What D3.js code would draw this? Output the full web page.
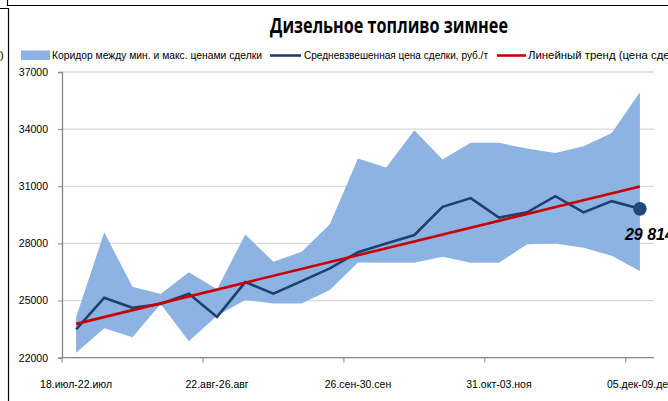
<!DOCTYPE html>
<html>
<head>
<meta charset="utf-8">
<script src="https://cdn.jsdelivr.net/npm/d3@7"></script>
<style>
  body { margin: 0; background: #fff; }
  svg { display: block; font-family: "Liberation Sans", Arial, sans-serif; }
</style>
</head>
<body>
<div id="chart"></div>
<script>
// weekly periods
const weeks = [
  "18.июл-22.июл", "25.июл-29.июл", "01.авг-05.авг", "08.авг-12.авг", "15.авг-19.авг",
  "22.авг-26.авг", "29.авг-02.сен", "05.сен-09.сен", "12.сен-16.сен", "19.сен-23.сен",
  "26.сен-30.сен", "03.окт-07.окт", "10.окт-14.окт", "17.окт-21.окт", "24.окт-28.окт",
  "31.окт-03.ноя", "07.ноя-11.ноя", "14.ноя-18.ноя", "21.ноя-25.ноя", "28.ноя-02.дек",
  "05.дек-09.дек",
];
const minPrice = [
  22260, 23540, 23070, 24820, 22870, 24200, 25030, 24850, 24850, 25550,
  27000, 26980, 26980, 27300, 26980, 26980, 27960, 28000, 27770, 27350,
  26550,
];
const maxPrice = [
  24120, 28580, 25720, 25340, 26480, 25590, 28470, 27040, 27560, 29010,
  32460, 31990, 33940, 32410, 33280, 33280, 32980, 32750, 33100, 33800,
  35940,
];
const avgPrice = [
  23490, 25150, 24620, 24820, 25360, 24140, 25970, 25360, 26020, 26690,
  27540, 28000, 28440, 29920, 30380, 29360, 29630, 30480, 29630, 30220,
  29814,
];
const yTicks = [22000, 25000, 28000, 31000, 34000, 37000];

const legendNames = [
  "Коридор между мин. и макс. ценами сделки",
  "Средневзвешенная цена сделки, руб./т",
  "Линейный тренд (цена сделки)",
];

const width = 668, height = 401;
const plot = { left: 62, right: 654, top: 72, bottom: 357.7 };
const bandColor = "#8db3e2", avgColor = "#1f3f6e", trendColor = "#c80000";

const svg = d3.select("#chart").append("svg")
  .attr("width", width).attr("height", height);
svg.append("rect").attr("width", width).attr("height", height).attr("fill", "#fff");

// neighbouring frame remnants
svg.append("path")
  .attr("d", "M7.5,0V5.5H668M0,8.5H8.5V401")
  .attr("fill", "none").attr("stroke", "#000").attr("stroke-width", 1.2);
svg.append("text").attr("x", 0).attr("y", 59).attr("font-size", 11).text(")");

const x = d3.scaleBand().domain(d3.range(weeks.length)).range([plot.left, plot.right]);
const cx = (i) => x(i) + x.bandwidth() / 2;
const y = d3.scaleLinear().domain([22000, 37000]).range([plot.bottom, plot.top]);

// gridlines
svg.append("g")
  .selectAll("line")
  .data(yTicks.slice(1))
  .join("line")
  .attr("x1", plot.left).attr("x2", plot.right)
  .attr("y1", (d) => y(d)).attr("y2", (d) => y(d))
  .attr("stroke", "#d9d9d9").attr("stroke-width", 1.3);

// corridor
const area = d3.area()
  .x((d, i) => cx(i))
  .y0((d, i) => y(minPrice[i]))
  .y1((d) => y(d));
svg.append("path")
  .datum(maxPrice)
  .attr("d", area)
  .attr("fill", bandColor);

// average line
const line = d3.line().x((d, i) => cx(i)).y((d) => y(d));
svg.append("path")
  .datum(avgPrice)
  .attr("d", line)
  .attr("fill", "none")
  .attr("stroke", avgColor)
  .attr("stroke-width", 2.6)
  .attr("stroke-linejoin", "miter");

// linear trend (least squares over avg prices)
const n = avgPrice.length;
const mx = d3.mean(d3.range(n));
const my = d3.mean(avgPrice);
const slope = d3.sum(avgPrice, (d, i) => (i - mx) * (d - my)) /
  d3.sum(d3.range(n), (i) => (i - mx) ** 2);
const trend = [my - slope * mx, my + slope * (n - 1 - mx)];
svg.append("line")
  .attr("x1", cx(0)).attr("y1", y(trend[0]))
  .attr("x2", cx(n - 1)).attr("y2", y(trend[1]))
  .attr("stroke", trendColor)
  .attr("stroke-width", 2.6);

// last point marker and label
const last = n - 1;
svg.append("circle")
  .attr("cx", cx(last)).attr("cy", y(avgPrice[last]))
  .attr("r", 6.8)
  .attr("fill", "#1f497d");
svg.append("text")
  .attr("x", cx(last) - 15).attr("y", y(avgPrice[last]) + 31)
  .attr("font-size", 16).attr("font-weight", "bold").attr("font-style", "italic")
  .attr("fill", "#000")
  .text(d3.format(",")(avgPrice[last]).replace(",", " "));

// y axis
const yAxis = svg.append("g")
  .attr("transform", `translate(${plot.left},0)`)
  .call(d3.axisLeft(y).tickValues(yTicks).tickSize(4).tickPadding(10).tickFormat(d3.format("d")));
yAxis.select(".domain").attr("stroke", "#868686").attr("stroke-width", 1.3);
yAxis.selectAll(".tick line").attr("stroke", "#868686");
yAxis.selectAll(".tick text").attr("font-size", 10.5).attr("fill", "#000")
  .attr("font-family", "'Liberation Sans Narrow', 'Liberation Sans', sans-serif");

// x axis: ticks on category borders every 5 weeks, labels on every 5th week
const xg = svg.append("g").attr("transform", `translate(0,${plot.bottom})`);
xg.append("line")
  .attr("x1", plot.left).attr("x2", plot.right)
  .attr("stroke", "#868686").attr("stroke-width", 1.3);
const labelIdx = d3.range(0, n, 5);
xg.selectAll(".xtick")
  .data(labelIdx)
  .join("line")
  .attr("class", "xtick")
  .attr("x1", (i) => x(i)).attr("x2", (i) => x(i))
  .attr("y2", 5)
  .attr("stroke", "#868686");
xg.selectAll(".xlabel")
  .data(labelIdx)
  .join("text")
  .attr("class", "xlabel")
  .attr("x", (i) => cx(i))
  .attr("y", 30)
  .attr("text-anchor", "middle")
  .attr("font-size", 10.5)
  .attr("fill", "#000")
  .text((i) => weeks[i]);

// title
svg.append("text")
  .attr("x", 389).attr("y", 33)
  .attr("text-anchor", "middle")
  .attr("font-family", "'Open Sans', sans-serif")
  .attr("font-weight", "bold")
  .attr("font-size", 21)
  .attr("textLength", 238)
  .attr("lengthAdjust", "spacingAndGlyphs")
  .text("Дизельное топливо зимнее");

// legend
const lg = svg.append("g").attr("font-size", 11);
lg.append("rect").attr("x", 21).attr("y", 50.5).attr("width", 29).attr("height", 9.5).attr("fill", bandColor);
lg.append("text").attr("x", 52).attr("y", 59).attr("textLength", 210).attr("lengthAdjust", "spacingAndGlyphs")
  .text(legendNames[0]);
lg.append("line").attr("x1", 270).attr("x2", 301).attr("y1", 55.5).attr("y2", 55.5)
  .attr("stroke", avgColor).attr("stroke-width", 2.6);
lg.append("text").attr("x", 304).attr("y", 59).attr("textLength", 184).attr("lengthAdjust", "spacingAndGlyphs")
  .text(legendNames[1]);
lg.append("line").attr("x1", 497).attr("x2", 526).attr("y1", 55.5).attr("y2", 55.5)
  .attr("stroke", trendColor).attr("stroke-width", 2.6);
lg.append("text").attr("x", 528).attr("y", 59).attr("textLength", 163).attr("lengthAdjust", "spacingAndGlyphs")
  .text(legendNames[2]);
</script>
</body>
</html>
